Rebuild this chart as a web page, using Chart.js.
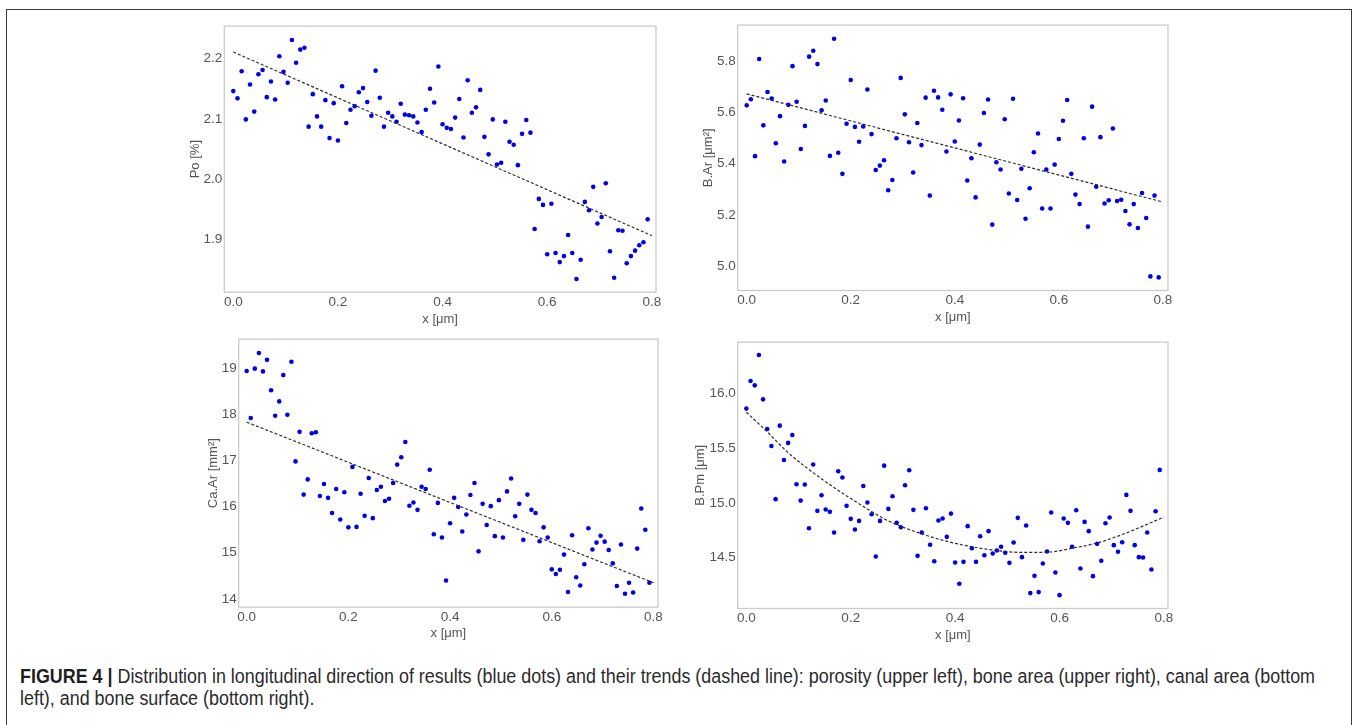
<!DOCTYPE html>
<html>
<head>
<meta charset="utf-8">
<title>Figure 4</title>
<script src="https://cdn.jsdelivr.net/npm/chart.js@4.4.1/dist/chart.umd.min.js"></script>
<style>
  html, body { margin: 0; padding: 0; background: #fff; }
  body { width: 1357px; height: 725px; position: relative; overflow: hidden; }
  #frame { position: absolute; left: 6px; top: 9px; width: 1346px; height: 740px; border: 1px solid #3a3a3a; box-sizing: border-box; }
  canvas { position: absolute; }
  #caption {
    position: absolute; left: 20px; top: 665px;
    font-family: "Liberation Sans Narrow", "Liberation Sans", Arial, sans-serif;
    font-size: 20px; line-height: 22px; color: #2b2b2b;
    white-space: nowrap; transform-origin: 0 0;
  }
  #caption b { color: #1e1e1e; }
</style>
</head>
<body>
<div id="frame"></div>
<canvas id="poChart"></canvas>
<canvas id="baChart"></canvas>
<canvas id="caChart"></canvas>
<canvas id="bpChart"></canvas>
<div id="caption"><span id="capLine1"><b>FIGURE 4 |</b> Distribution in longitudinal direction of results (blue dots) and their trends (dashed line): porosity (upper left), bone area (upper right), canal area (bottom</span><br>left), and bone surface (bottom right).</div>

<script>
// positions along the sample (same for all four panels)
const xPos = [
  0.000, 0.008, 0.016, 0.024, 0.032, 0.040, 0.048, 0.056, 0.064, 0.072,
  0.080, 0.088, 0.096, 0.104, 0.112, 0.120, 0.128, 0.136, 0.144, 0.152,
  0.160, 0.168, 0.176, 0.184, 0.192, 0.200, 0.208, 0.216, 0.224, 0.232,
  0.240, 0.248, 0.256, 0.264, 0.272, 0.280, 0.288, 0.296, 0.304, 0.312,
  0.320, 0.328, 0.336, 0.344, 0.352, 0.360, 0.368, 0.376, 0.384, 0.392,
  0.400, 0.408, 0.416, 0.424, 0.432, 0.440, 0.448, 0.456, 0.464, 0.472,
  0.480, 0.488, 0.496, 0.504, 0.512, 0.520, 0.528, 0.536, 0.544, 0.552,
  0.560, 0.568, 0.576, 0.584, 0.592, 0.600, 0.608, 0.616, 0.624, 0.632,
  0.640, 0.648, 0.656, 0.664, 0.672, 0.680, 0.688, 0.696, 0.704, 0.712,
  0.720, 0.728, 0.736, 0.744, 0.752, 0.760, 0.768, 0.776, 0.784, 0.792
];

const porosity = [
  2.146, 2.134, 2.179, 2.099, 2.157, 2.112, 2.174, 2.181, 2.136, 2.162,
  2.132, 2.204, 2.178, 2.160, 2.231, 2.193, 2.215, 2.218, 2.087, 2.141,
  2.104, 2.087, 2.131, 2.068, 2.126, 2.064, 2.154, 2.093, 2.115, 2.121,
  2.144, 2.151, 2.128, 2.105, 2.180, 2.135, 2.087, 2.110, 2.104, 2.095,
  2.125, 2.107, 2.106, 2.104, 2.094, 2.078, 2.115, 2.150, 2.127, 2.187,
  2.091, 2.085, 2.083, 2.102, 2.133, 2.069, 2.164, 2.110, 2.119, 2.148,
  2.070, 2.041, 2.099, 2.024, 2.027, 2.095, 2.062, 2.057, 2.023, 2.075,
  2.098, 2.077, 1.917, 1.967, 1.957, 1.875, 1.959, 1.877, 1.862, 1.872,
  1.907, 1.877, 1.834, 1.866, 1.962, 1.948, 1.987, 1.926, 1.937, 1.993,
  1.880, 1.836, 1.915, 1.914, 1.860, 1.872, 1.881, 1.890, 1.895, 1.933
];

const boneArea = [
  5.627, 5.651, 5.429, 5.808, 5.549, 5.679, 5.654, 5.479, 5.585, 5.408,
  5.629, 5.780, 5.641, 5.457, 5.547, 5.817, 5.840, 5.788, 5.608, 5.646,
  5.430, 5.887, 5.442, 5.360, 5.555, 5.726, 5.543, 5.485, 5.545, 5.689,
  5.515, 5.375, 5.392, 5.413, 5.296, 5.336, 5.499, 5.734, 5.592, 5.483,
  5.365, 5.558, 5.472, 5.657, 5.275, 5.684, 5.658, 5.610, 5.447, 5.670,
  5.486, 5.568, 5.655, 5.334, 5.421, 5.268, 5.474, 5.597, 5.650, 5.162,
  5.405, 5.377, 5.573, 5.283, 5.653, 5.258, 5.380, 5.185, 5.304, 5.444,
  5.517, 5.225, 5.377, 5.225, 5.396, 5.496, 5.567, 5.648, 5.360, 5.279,
  5.242, 5.499, 5.154, 5.622, 5.310, 5.503, 5.244, 5.257, 5.537, 5.254,
  5.259, 5.215, 5.163, 5.242, 5.149, 5.285, 5.188, 4.960, 5.275, 4.956
];

const canalArea = [
  18.94, 17.92, 18.99, 19.33, 18.93, 19.18, 18.52, 17.97, 18.28, 18.85,
  17.99, 19.14, 16.98, 17.62, 16.26, 16.59, 17.59, 17.61, 16.23, 16.49,
  16.19, 15.86, 16.38, 15.72, 16.31, 15.55, 16.86, 15.56, 16.28, 15.80,
  16.62, 15.75, 16.36, 16.43, 16.12, 16.17, 16.51, 16.91, 17.07, 17.40,
  16.02, 16.09, 15.93, 16.43, 16.38, 16.80, 15.40, 16.08, 15.33, 14.40,
  15.64, 16.19, 15.99, 15.46, 15.83, 16.25, 16.51, 15.03, 16.06, 15.60,
  16.01, 15.36, 16.14, 15.33, 16.33, 16.61, 15.79, 16.06, 15.28, 16.26,
  15.93, 15.86, 15.25, 15.55, 15.33, 14.64, 14.54, 14.63, 14.96, 14.15,
  15.38, 14.47, 14.29, 14.75, 15.53, 15.07, 15.22, 15.37, 15.24, 15.06,
  14.77, 14.28, 15.18, 14.11, 14.35, 14.14, 15.09, 15.96, 15.50, 14.35
];

const bonePerimeter = [
  15.863, 16.116, 16.076, 16.354, 15.948, 15.677, 15.521, 15.034, 15.707, 15.393,
  15.549, 15.622, 15.171, 15.021, 15.168, 14.768, 15.351, 14.927, 15.070, 14.939,
  14.918, 14.729, 15.290, 15.232, 14.973, 14.854, 14.756, 14.835, 15.155, 15.003,
  14.896, 14.509, 14.835, 15.341, 14.945, 15.061, 14.817, 14.777, 15.162, 15.299,
  14.936, 14.515, 14.729, 14.951, 14.616, 14.466, 14.838, 14.857, 14.689, 14.902,
  14.454, 14.259, 14.460, 14.787, 14.585, 14.460, 14.695, 14.521, 14.741, 14.537,
  14.564, 14.598, 14.543, 14.451, 14.637, 14.863, 14.503, 14.793, 14.174, 14.332,
  14.183, 14.445, 14.555, 14.912, 14.363, 14.155, 14.857, 14.817, 14.598, 14.933,
  14.399, 14.826, 14.741, 14.329, 14.625, 14.470, 14.814, 14.866, 14.613, 14.552,
  14.640, 15.073, 14.927, 14.613, 14.503, 14.500, 14.729, 14.390, 14.924, 15.302
];

// trend lines (dashed)
const poTrendX = [0.0, 0.8];
const poTrendY = [2.211, 1.906];
const baTrendX = [0.0, 0.8];
const baTrendY = [5.672, 5.250];
const caTrendX = [0.0, 0.8];
const caTrendY = [17.83, 14.35];
const bpTrendX = [0.00, 0.04, 0.08, 0.15, 0.21, 0.27, 0.34, 0.40, 0.47, 0.53, 0.58, 0.63, 0.67, 0.72, 0.80];
const bpTrendY = [15.83, 15.65, 15.46, 15.20, 15.01, 14.84, 14.71, 14.63, 14.57, 14.546, 14.55, 14.59, 14.63, 14.71, 14.87];

// tick labels
const xTicks = [0.0, 0.2, 0.4, 0.6, 0.8];
const xTickLabels = ['0.0', '0.2', '0.4', '0.6', '0.8'];
const poTicks = [1.9, 2.0, 2.1, 2.2];
const poTickLabels = ['1.9', '2.0', '2.1', '2.2'];
const baTicks = [5.0, 5.2, 5.4, 5.6, 5.8];
const baTickLabels = ['5.0', '5.2', '5.4', '5.6', '5.8'];
const caTicks = [14, 15, 16, 17, 18, 19];
const caTickLabels = ['14', '15', '16', '17', '18', '19'];
const bpTicks = [14.5, 15.0, 15.5, 16.0];
const bpTickLabels = ['14.5', '15.0', '15.5', '16.0'];

const FONT = '"Liberation Sans", Arial, sans-serif';
const PAD = 10;
const TITLE_SIZE = 13;
const TITLE_LH = TITLE_SIZE * 1.2;

// light grey box round the plot area
const frameBox = {
    id: 'frameBox',
    beforeDatasetsDraw(chart) {
        const a = chart.chartArea;
        const ctx = chart.ctx;
        ctx.save();
        ctx.strokeStyle = '#cbcbcb';
        ctx.lineWidth = 1.3;
        ctx.strokeRect(a.left, a.top, a.right - a.left, a.bottom - a.top);
        ctx.restore();
    }
};

function toPoints(xs, ys) {
    return ys.map((y, i) => ({ x: xs[i], y: y }));
}

function panel(id, box, cfg) {
    const canvas = document.getElementById(id);
    const left = Math.round(box.yTitleX - TITLE_LH / 2 - PAD);
    const top = Math.round(box.top - PAD);
    const width = Math.round(box.right + PAD - left);
    const yAxisW = box.left - left - PAD;
    const xAxisH = box.xTitleY + TITLE_LH / 2 - box.bottom;
    const height = Math.round(box.bottom + xAxisH + PAD - top);

    canvas.width = width;
    canvas.height = height;
    canvas.style.left = left + 'px';
    canvas.style.top = top + 'px';
    canvas.style.width = width + 'px';
    canvas.style.height = height + 'px';

    return new Chart(canvas, {
        type: 'scatter',
        data: {
            datasets: [
                {
                    data: toPoints(cfg.trendX, cfg.trendY),
                    showLine: true,
                    borderColor: '#2e2e2e',
                    borderWidth: 1.2,
                    borderDash: [3, 2],
                    pointRadius: 0,
                    fill: false,
                    cubicInterpolationMode: cfg.trendX.length > 2 ? 'monotone' : 'default'
                },
                {
                    data: toPoints(xPos, cfg.values),
                    backgroundColor: '#0000e6',
                    borderWidth: 0,
                    pointRadius: 2.3
                }
            ]
        },
        options: {
            responsive: false,
            animation: false,
            devicePixelRatio: 1,
            layout: { padding: PAD },
            plugins: { legend: { display: false }, tooltip: { enabled: false } },
            scales: {
                x: {
                    type: 'linear',
                    min: cfg.xMin, max: cfg.xMax,
                    grid: { display: false, drawTicks: false },
                    border: { display: false },
                    afterBuildTicks: s => { s.ticks = xTicks.map(v => ({ value: v })); },
                    afterFit: s => { s.height = xAxisH; },
                    ticks: {
                        padding: 2, color: '#555', autoSkip: false, maxRotation: 0,
                        font: { family: FONT, size: 13.5 },
                        callback: (v, i) => xTickLabels[i]
                    },
                    title: {
                        display: true, text: 'x [μm]', color: '#555', padding: 0,
                        font: { family: FONT, size: TITLE_SIZE }
                    }
                },
                y: {
                    type: 'linear',
                    min: cfg.yMin, max: cfg.yMax,
                    grid: { display: false, drawTicks: false },
                    border: { display: false },
                    afterBuildTicks: s => { s.ticks = cfg.yTicks.map(v => ({ value: v })); },
                    afterFit: s => { s.width = yAxisW; },
                    ticks: {
                        padding: 2, color: '#555', autoSkip: false,
                        font: { family: FONT, size: 13.5 },
                        callback: (v, i) => cfg.yTickLabels[i]
                    },
                    title: {
                        display: true, text: cfg.yTitle, color: '#555', padding: 0,
                        font: { family: FONT, size: TITLE_SIZE }
                    }
                }
            }
        },
        plugins: [frameBox]
    });
}

panel('poChart',
    { left: 224.3, right: 656, top: 25.7, bottom: 292.3, yTitleX: 195.8, xTitleY: 319.3 },
    { values: porosity, trendX: poTrendX, trendY: poTrendY, yTicks: poTicks, yTickLabels: poTickLabels,
      yTitle: 'Po [%]', xMin: -0.0172, xMax: 0.808, yMin: 1.812, yMax: 2.254 });

panel('baChart',
    { left: 737.7, right: 1168.3, top: 25, bottom: 290, yTitleX: 708.5, xTitleY: 316.7 },
    { values: boneArea, trendX: baTrendX, trendY: baTrendY, yTicks: baTicks, yTickLabels: baTickLabels,
      yTitle: 'B.Ar [μm²]', xMin: -0.0173, xMax: 0.8099, yMin: 4.905, yMax: 5.94 });

panel('caChart',
    { left: 238.7, right: 658.3, top: 339.3, bottom: 606.7, yTitleX: 213.8, xTitleY: 632.7 },
    { values: canalArea, trendX: caTrendX, trendY: caTrendY, yTicks: caTicks, yTickLabels: caTickLabels,
      yTitle: 'Ca.Ar [mm²]', xMin: -0.0157, xMax: 0.8089, yMin: 13.82, yMax: 19.63 });

panel('bpChart',
    { left: 737.7, right: 1168.3, top: 341.7, bottom: 608.3, yTitleX: 700.8, xTitleY: 635 },
    { values: bonePerimeter, trendX: bpTrendX, trendY: bpTrendY, yTicks: bpTicks, yTickLabels: bpTickLabels,
      yTitle: 'B.Pm [μm]', xMin: -0.0166, xMax: 0.8078, yMin: 14.033, yMax: 16.472 });

// squeeze the caption so the first line ends where the original does
const cap = document.getElementById('caption');
const lineW = document.getElementById('capLine1').getBoundingClientRect().width;
cap.style.transform = 'scaleX(' + (1295 / lineW) + ')';
</script>
</body>
</html>
